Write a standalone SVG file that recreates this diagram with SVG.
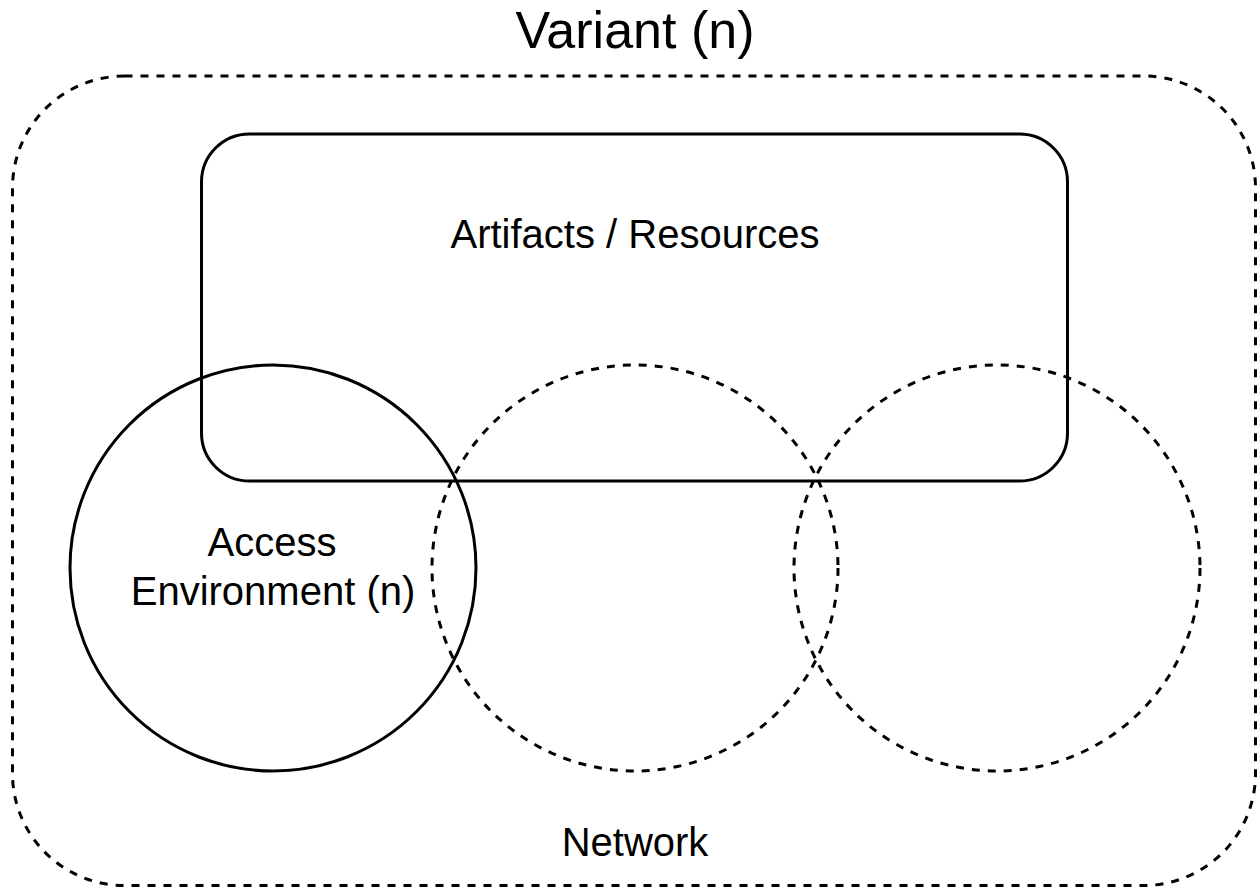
<svg xmlns="http://www.w3.org/2000/svg" width="1257" height="888" viewBox="0 0 1257 888">
<style>
.solid{fill:none;stroke:#000;stroke-width:3}
.dash{fill:none;stroke:#000;stroke-width:3;stroke-dasharray:8 8}
text{font-family:"Liberation Sans",Arial,sans-serif;fill:#000;text-anchor:middle}
.t{font-size:40px}
</style>
<rect width="1257" height="888" fill="#fff"/>
<g id="variant">
<rect class="dash" x="12.5" y="76" width="1243" height="809.5" rx="112" ry="112"/>
<text x="635" y="48" style="font-size:52px">Variant (n)</text>
<text class="t" x="635" y="856">Network</text>
</g>
<g id="artifacts">
<rect class="solid" x="201.5" y="134" width="866" height="347" rx="48" ry="48"/>
<text class="t" x="635" y="248">Artifacts / Resources</text>
</g>
<g id="access">
<circle class="solid" cx="273" cy="568" r="203"/>
<text class="t" x="272" y="556">Access</text>
<text class="t" x="273" y="605">Environment (n)</text>
</g>
<g id="env2">
<circle class="dash" cx="635" cy="568" r="203"/>
</g>
<g id="env3">
<circle class="dash" cx="997" cy="568" r="203"/>
</g>
<g id="connectors"/>
</svg>
